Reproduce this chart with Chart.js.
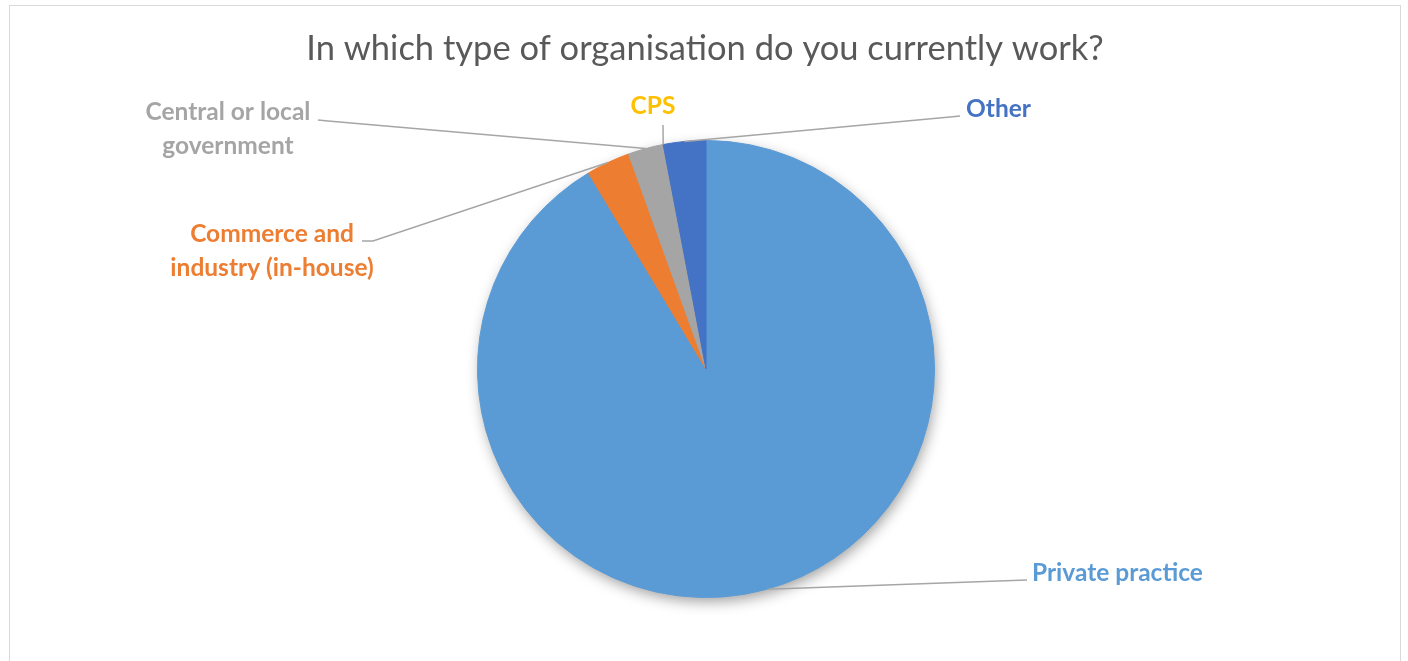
<!DOCTYPE html>
<html>
<head>
<meta charset="utf-8">
<script src="https://cdn.jsdelivr.net/npm/chart.js@4.4.1/dist/chart.umd.min.js"></script>
<style>
  html, body { margin: 0; padding: 0; background: #ffffff; }
  #wrap { position: relative; width: 1408px; height: 661px; }
</style>
</head>
<body>
<div id="wrap"><canvas id="c" width="1408" height="661"></canvas></div>
<script>
// ---- Data ----
const titleText = "In which type of organisation do you currently work?";
const categories = ["Private practice", "Commerce and industry (in-house)", "Central or local government", "CPS", "Other"];
const values = [91.4, 3.1, 2.5, 0, 3.0];
const colors = ["#5B9BD5", "#ED7D31", "#A5A5A5", "#FFC000", "#4472C4"];

// ---- Label layout (text lines, anchor, leader elbow) ----
const labelLayout = [
  { lines: ["Private practice"], x: 1032, y: 573, align: "left", elbow: [1027, 580] },
  { lines: ["Commerce and", "industry (in-house)"], x: 272, y: 234, align: "center", elbow: [362, 241], elbow2: [373, 241] },
  { lines: ["Central or local", "government"], x: 228, y: 112, align: "center", elbow: [318, 120], elbow2: [328, 121] },
  { lines: ["CPS"], x: 653, y: 106, align: "center", elbow: [663, 125] },
  { lines: ["Other"], x: 966, y: 109, align: "left", elbow: [960, 116], elbow2: [950, 117] }
];

const FONT = "Lato, 'Open Sans', 'Liberation Sans', sans-serif";

const framePlugin = {
  id: 'frame',
  beforeDraw(chart) {
    const ctx = chart.ctx;
    ctx.save();
    ctx.fillStyle = '#ffffff';
    ctx.fillRect(0, 0, chart.width, chart.height);
    ctx.strokeStyle = '#D9D9D9';
    ctx.lineWidth = 1;
    ctx.strokeRect(9.5, 5.5, 1391, 700);
    ctx.fillStyle = '#595959';
    ctx.font = "34.5px " + FONT;
    ctx.textAlign = 'center';
    ctx.textBaseline = 'middle';
    ctx.fillText(titleText, 705, 49);
    ctx.restore();
  },
  beforeDatasetsDraw(chart) {
    const meta = chart.getDatasetMeta(0);
    const a = meta.data[0];
    if (!a) return;
    const ctx = chart.ctx;
    ctx.save();
    ctx.shadowColor = 'rgba(0,0,0,0.38)';
    ctx.shadowBlur = 14;
    ctx.shadowOffsetX = 2;
    ctx.shadowOffsetY = 5;
    ctx.fillStyle = '#5B9BD5';
    ctx.beginPath();
    ctx.arc(a.x, a.y, a.outerRadius - 1, 0, Math.PI * 2);
    ctx.fill();
    ctx.restore();
  },
  afterDatasetsDraw(chart) {
    const meta = chart.getDatasetMeta(0);
    const ctx = chart.ctx;
    ctx.save();
    meta.data.forEach((arc, i) => {
      const L = labelLayout[i];
      const mid = (arc.startAngle + arc.endAngle) / 2;
      const r = arc.outerRadius;
      const sx = arc.x + r * Math.cos(mid);
      const sy = arc.y + r * Math.sin(mid);
      ctx.strokeStyle = '#A6A6A6';
      ctx.lineWidth = 1.5;
      ctx.beginPath();
      ctx.moveTo(L.elbow[0], L.elbow[1]);
      if (L.elbow2) ctx.lineTo(L.elbow2[0], L.elbow2[1]);
      ctx.lineTo(sx, sy);
      ctx.stroke();
      ctx.fillStyle = colors[i];
      ctx.font = "bold 24.5px " + FONT;
      ctx.textAlign = L.align;
      ctx.textBaseline = 'middle';
      L.lines.forEach((t, k) => ctx.fillText(t, L.x, L.y + k * 34));
    });
    ctx.restore();
  }
};

new Chart(document.getElementById('c'), {
  type: 'pie',
  data: {
    labels: categories,
    datasets: [{
      data: values,
      backgroundColor: colors,
      borderColor: colors,
      borderWidth: [1, 1, 1, 0, 1]
    }]
  },
  options: {
    responsive: false,
    animation: false,
    layout: { padding: { left: 202, right: 198, top: 140, bottom: 63 } },
    plugins: {
      legend: { display: false },
      tooltip: { enabled: false },
      title: { display: false }
    }
  },
  plugins: [framePlugin]
});
</script>
</body>
</html>
